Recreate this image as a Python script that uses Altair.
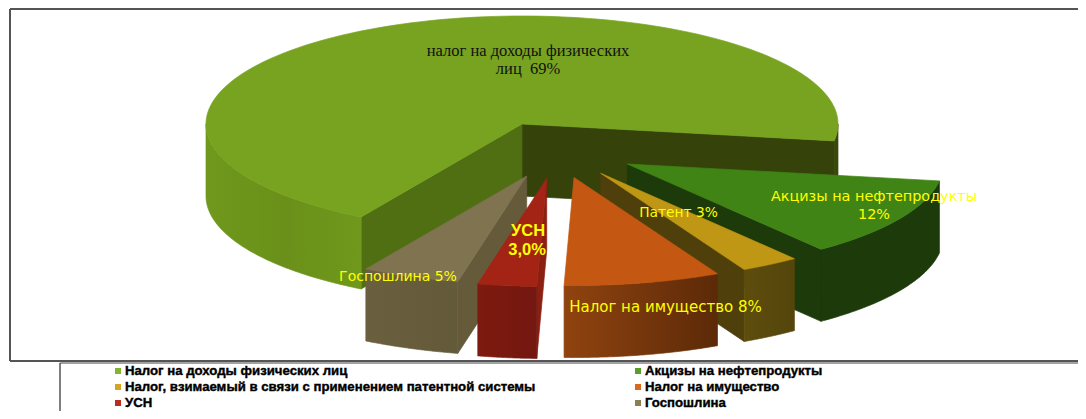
import math
import altair as alt
import pandas as pd

# ---- data
names = ["Налог на доходы физических лиц", "Акцизы на нефтепродукты",
         "Налог, взимаемый в связи с применением патентной системы",
         "Налог на имущество", "УСН", "Госпошлина"]
shares = [69, 12, 3, 8, 3, 5]

# ---- styling / layout
W, H = 1070, 403
A, B, DEPTH = 316, 108, 72
START = -9.0   # angle (deg, counter-clockwise) where the first slice's clockwise end lies
apex = {0: (522, 124), 1: (627.3, 164), 2: (600.7, 173.3), 3: (574, 177.5), 4: (546.7, 178.5), 5: (526.7, 176)}
top_col = ["#78a320", "#418416", "#bf9714", "#c45711", "#a32415", "#7f7350"]
face_col = ["#4f6f12", "#1c3a0a", "#4f3f0b", "#5c2a08", "#8a1f12", "#655b3b"]
leg_col = ["#85b52e", "#5a9e2a", "#d5a520", "#d9691f", "#b82e1e", "#8a7f52"]


def grad(*cols):
    n = len(cols) - 1
    return alt.LinearGradient(gradient="linear", x1=0, x2=1, y1=0, y2=0,
                              stops=[alt.GradientStop(offset=i / n, color=c) for i, c in enumerate(cols)])


wall_cols = [("#6f981c", "#6a9019", "#6f981c"), ("#1c3a0a",), ("#5d4d0d", "#54450b"),
             ("#90430f", "#5c2a08"), ("#7e1a0f", "#731710"), ("#6a5f3e", "#635a3a")]

# slice angle ranges from the shares
ranges = []
a = START
for s in shares[1:]:
    ranges.append((a - s * 3.6, a))
    a -= s * 3.6
ranges = [(START, a + 360)] + ranges

sx = alt.Scale(domain=[8, 8 + W], nice=False, zero=False)
sy = alt.Scale(domain=[8 + H, 8], nice=False, zero=False)
ex = alt.X("x:Q", axis=None, scale=sx)
ey = alt.Y("y:Q", axis=None, scale=sy)


def pt(i, deg, drop=0):
    cx, cy = apex[i]
    r = math.radians(deg)
    return (cx + A * math.cos(r), cy - B * math.sin(r) + drop)


def arc(i, lo, hi, drop=0, n=70):
    return [pt(i, lo + (hi - lo) * k / n, drop) for k in range(n + 1)]


def poly(points, cols):
    """Closed filled polygon, with a thin same-colour outline that hides the seams."""
    cols = (cols,) if isinstance(cols, str) else cols
    points = points + [points[0]]
    df = pd.DataFrame({"x": [p[0] for p in points], "y": [p[1] for p in points], "i": range(len(points))})
    paint = cols[0] if len(cols) == 1 else grad(*cols)
    return alt.Chart(df).mark_line(fill=paint, stroke=paint, strokeWidth=0.7, interpolate="linear").encode(
        x=ex, y=ey, order=alt.Order("i:Q"))


def wall(i, lo, hi, cols):
    return poly(arc(i, lo, hi) + arc(i, lo, hi, DEPTH)[::-1], cols)


def side(i, deg, cols):
    c = apex[i]
    e = pt(i, deg)
    return poly([c, e, (e[0], e[1] + DEPTH), (c[0], c[1] + DEPTH)], cols)


def top(i, lo, hi, cols):
    return poly([apex[i]] + arc(i, lo, hi, 0, 160), cols)


layers = []
lo, hi = ranges[0]
layers += [side(0, lo, "#35430b"), side(0, hi, "#4f6f12"),
           wall(0, 180, hi, wall_cols[0]), wall(0, lo, 0, "#3a480c"), top(0, lo, hi, top_col[0])]
# green
lo, hi = ranges[1]
layers += [side(1, lo, face_col[1]), wall(1, lo, hi, wall_cols[1]), top(1, lo, hi, top_col[1])]
# patent
lo, hi = ranges[2]
layers += [side(2, lo, face_col[2]), wall(2, lo, hi, wall_cols[2]), top(2, lo, hi, top_col[2])]
# property
lo, hi = ranges[3]
layers += [wall(3, lo, hi, wall_cols[3]), top(3, lo, hi, top_col[3])]
# gosposhlina
lo, hi = ranges[5]
layers += [side(5, hi, face_col[5]), wall(5, lo, hi, wall_cols[5]), top(5, lo, hi, top_col[5])]
# usn
lo, hi = ranges[4]
layers += [side(4, hi, face_col[4]), wall(4, lo, hi, wall_cols[4]), top(4, lo, hi, top_col[4])]


def label(lines, xs, ys, color, font, size, weight="normal", align="center"):
    df = pd.DataFrame({"t": lines, "x": xs, "y": ys})
    return alt.Chart(df).mark_text(color=color, font=font, fontSize=size, fontWeight=weight, align=align,
                                   baseline="middle").encode(x=ex, y=ey, text="t:N")


SANS = "DejaVu Sans"
YEL = "#ffff00"
layers += [
    label(["налог на доходы физических", "лиц \u00a069%"], [528, 528], [51, 69], "#111111", "Liberation Serif", 16.5),
    label(["Акцизы на нефтепродукты", "12%"], [874, 874], [197, 215], YEL, SANS, 14.4),
    label(["Патент 3%"], [678.5], [213], YEL, SANS, 13.8),
    label(["Налог на имущество 8%"], [665.5], [307], YEL, SANS, 15),
    label(["Госпошлина 5%"], [398], [277], YEL, SANS, 14),
    label(["УСН", "3,0%"], [528, 527], [231, 250], YEL, "Liberation Sans", 16.5, "bold"),
]

# legend
leg_x = [118, 638, 118, 638, 118, 638]
leg_y = [371, 371, 387, 387, 403, 403]
leg = pd.DataFrame({"name": names, "x": leg_x, "y": leg_y, "c": leg_col, "tx": [v + 7 for v in leg_x]})
layers.append(alt.Chart(leg).mark_square(size=36, opacity=1).encode(x=ex, y=ey, color=alt.Color("c:N", scale=None)))
layers.append(alt.Chart(leg).mark_text(font="Liberation Sans", fontSize=13.2, fontWeight="bold", align="left",
                                       baseline="middle", color="#000000", stroke="#000000",
                                       strokeWidth=0.4).encode(
    x=alt.X("tx:Q", axis=None, scale=sx), y=ey, text="name:N"))


# frame
def rule(x, x2, y, y2, w=2, c="#555555"):
    return alt.Chart(pd.DataFrame({"a": [0]})).mark_rule(color=c, strokeWidth=w).encode(
        x=alt.value(x - 8), x2=alt.value(x2 - 8), y=alt.value(y - 8), y2=alt.value(y2 - 8))


layers += [rule(10, 1078, 9, 9), rule(10, 10, 9, 361), rule(10, 1078, 361, 361),
           rule(60, 1078, 363, 363, 1, "#444444"), rule(60, 60, 363, 411, 1.5)]

chart = alt.layer(*layers).properties(width=W, height=H, padding=0,
                                      autosize=alt.AutoSizeParams(type="none")).configure_view(stroke=None)
chart.save("out.html", embed_options={"renderer": "svg", "actions": False})
